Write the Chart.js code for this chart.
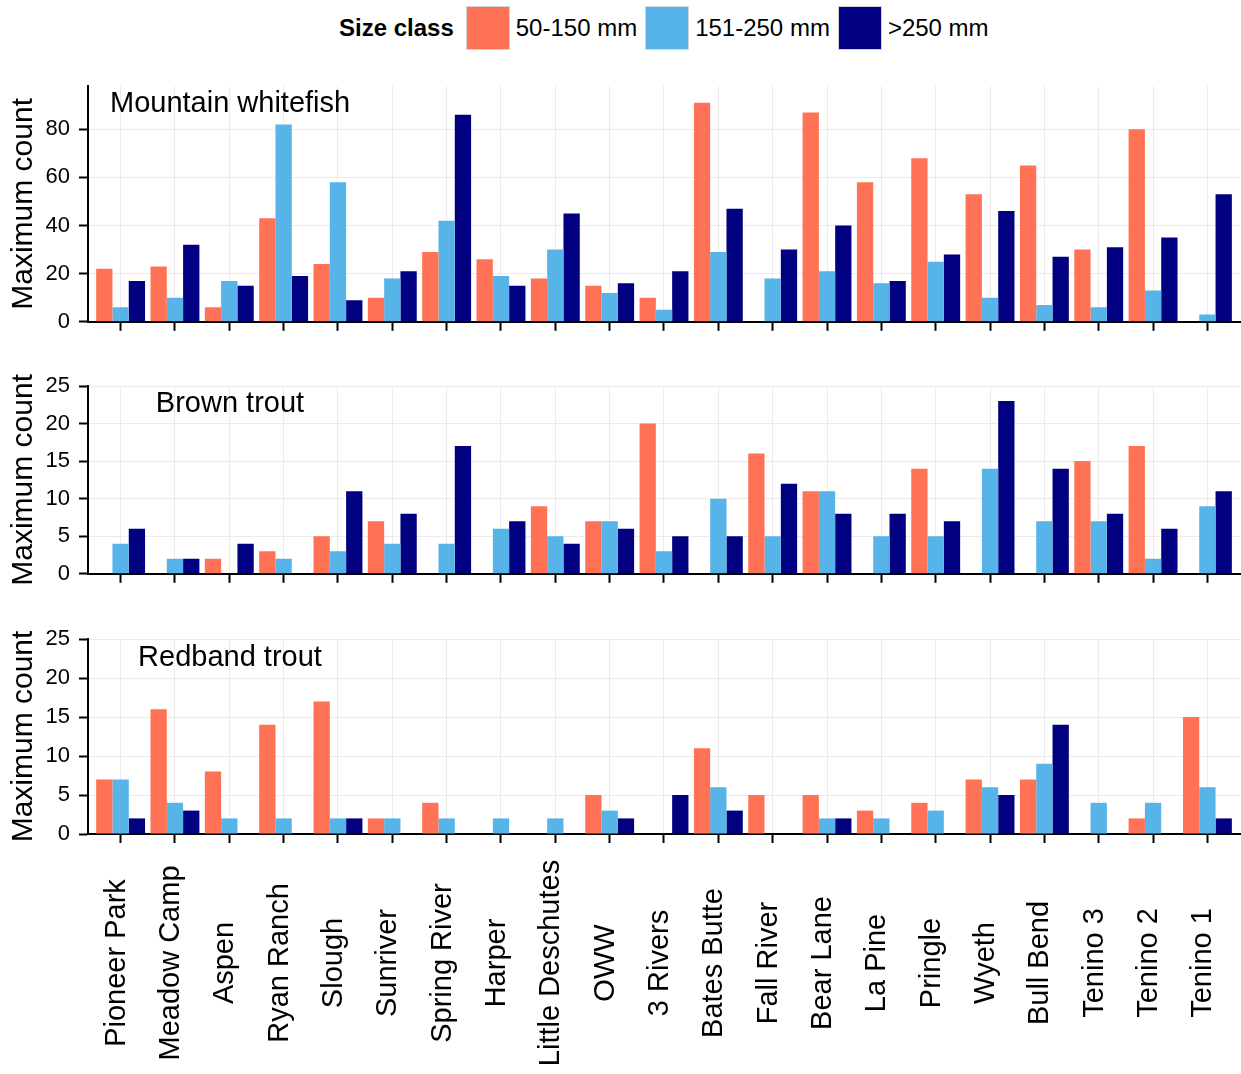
<!DOCTYPE html>
<html>
<head>
<meta charset="utf-8">
<script src="https://cdn.jsdelivr.net/npm/chart.js@4.4.1/dist/chart.umd.min.js"></script>
<style>
  html, body { margin: 0; padding: 0; background: #fff; }
  body { width: 1241px; height: 1074px; position: relative; overflow: hidden;
         font-family: "Liberation Sans", Arial, sans-serif; color: #000; }
  .legend { position: absolute; top: 6px; left: 339px; height: 44px; display: flex;
            align-items: center; font-size: 24px; white-space: nowrap; }
  .legend b { margin-right: 12px; }
  .legend .key { width: 42px; height: 42px; border: 1px solid #d4d4d4; margin-right: 6px; }
  .legend .lab { margin-right: 8px; }
  .panel { position: absolute; left: 0; }
  .ptitle { position: absolute; left: 110px; width: 240px; text-align: center;
            font-size: 29px; line-height: 29px; white-space: nowrap; }
</style>
</head>
<body>

<div class="legend" id="legend"></div>

<canvas class="panel" id="pWhitefish" width="1241" height="284" style="top:60px"></canvas>
<canvas class="panel" id="pBrown" width="1241" height="236" style="top:360px"></canvas>
<canvas class="panel" id="pRedband" width="1241" height="461" style="top:613px"></canvas>

<div class="ptitle" style="top:88px">Mountain whitefish</div>
<div class="ptitle" style="top:388px">Brown trout</div>
<div class="ptitle" style="top:642px">Redband trout</div>

<script>
// ---- data ----
var sites = ["Pioneer Park", "Meadow Camp", "Aspen", "Ryan Ranch", "Slough", "Sunriver",
  "Spring River", "Harper", "Little Deschutes", "OWW", "3 Rivers", "Bates Butte",
  "Fall River", "Bear Lane", "La Pine", "Pringle", "Wyeth", "Bull Bend",
  "Tenino 3", "Tenino 2", "Tenino 1"];

var sizeClasses = ["50-150 mm", "151-250 mm", ">250 mm"];
var sizeColors = ["#FF7256", "#56B4E9", "#000080"];

var whitefishSmall = [22, 23, 6, 43, 24, 10, 29, 26, 18, 15, 10, 91, 0, 87, 58, 68, 53, 65, 30, 80, 0];
var whitefishMid   = [6, 10, 17, 82, 58, 18, 42, 19, 30, 12, 5, 29, 18, 21, 16, 25, 10, 7, 6, 13, 3];
var whitefishLarge = [17, 32, 15, 19, 9, 21, 86, 15, 45, 16, 21, 47, 30, 40, 17, 28, 46, 27, 31, 35, 53];

var brownSmall = [0, 0, 2, 3, 5, 7, 0, 0, 9, 7, 20, 0, 16, 11, 0, 14, 0, 0, 15, 17, 0];
var brownMid   = [4, 2, 0, 2, 3, 4, 4, 6, 5, 7, 3, 10, 5, 11, 5, 5, 14, 7, 7, 2, 9];
var brownLarge = [6, 2, 4, 0, 11, 8, 17, 7, 4, 6, 5, 5, 12, 8, 8, 7, 23, 14, 8, 6, 11];

var redbandSmall = [7, 16, 8, 14, 17, 2, 4, 0, 0, 5, 0, 11, 5, 5, 3, 4, 7, 7, 0, 2, 15];
var redbandMid   = [7, 4, 2, 2, 2, 2, 2, 2, 2, 3, 0, 6, 0, 2, 2, 3, 6, 9, 4, 4, 6];
var redbandLarge = [2, 3, 0, 0, 2, 0, 0, 0, 0, 2, 5, 3, 0, 2, 0, 0, 5, 14, 0, 0, 2];

var whitefishTicks = [0, 20, 40, 60, 80];
var troutTicks = [0, 5, 10, 15, 20, 25];

// ---- legend ----
(function () {
  var lg = document.getElementById("legend");
  var html = "<b>Size class</b>";
  sizeClasses.forEach(function (s, i) {
    html += '<div class="key" style="background:' + sizeColors[i] + '"></div>' +
      '<span class="lab">' + s.replace(">", "&gt;") + "</span>";
  });
  lg.innerHTML = html;
})();

var FONT = '"Liberation Sans", Arial, sans-serif';
var GRID = "#ebebeb";

// rotated, centred site names under the last panel
var siteLabels = {
  id: "siteLabels",
  afterDraw: function (chart, args, opts) {
    if (!opts.show) return;
    var xs = chart.scales.x, ctx = chart.ctx;
    var cy = chart.chartArea.bottom + 129;
    ctx.save();
    ctx.font = "29px " + FONT;
    ctx.fillStyle = "#000";
    ctx.textAlign = "center";
    ctx.textBaseline = "middle";
    sites.forEach(function (name, i) {
      ctx.save();
      ctx.translate(xs.getPixelForValue(i) - 4, cy);
      ctx.rotate(-Math.PI / 2);
      ctx.fillText(name, 0, 0);
      ctx.restore();
    });
    ctx.restore();
  }
};

function panel(id, series, yMax, yTicks, xHeight, showLabels) {
  var datasets = series.map(function (vals, k) {
    return {
      label: sizeClasses[k],
      data: vals.map(function (v, i) { return { x: i, y: v }; }),
      backgroundColor: sizeColors[k],
      borderWidth: 0,
      categoryPercentage: 0.9,
      barPercentage: 1.0
    };
  });
  return new Chart(document.getElementById(id), {
    type: "bar",
    data: { datasets: datasets },
    plugins: [siteLabels],
    options: {
      responsive: false,
      animation: false,
      devicePixelRatio: 1,
      layout: { padding: { top: 26, right: 1, left: 0, bottom: 0 } },
      plugins: {
        legend: { display: false },
        tooltip: { enabled: false },
        siteLabels: { show: showLabels }
      },
      scales: {
        x: {
          type: "linear",
          min: -0.6, max: 20.6,
          offset: false,
          grid: { offset: false, color: GRID, lineWidth: 1, drawTicks: true,
                  tickLength: 9, tickColor: "#000", tickWidth: 2 },
          border: { color: "#000", width: 2 },
          ticks: { display: false },
          afterBuildTicks: function (s) {
            s.ticks = sites.map(function (n, i) { return { value: i }; });
          },
          afterFit: function (s) { s.height = xHeight; }
        },
        y: {
          min: 0, max: yMax,
          grid: { color: GRID, lineWidth: 1, tickLength: 9, tickColor: "#000", tickWidth: 2 },
          border: { color: "#000", width: 2 },
          ticks: { font: { family: FONT, size: 22 }, color: "#000", padding: 9 },
          afterBuildTicks: function (s) {
            s.ticks = yTicks.map(function (v) { return { value: v }; });
          },
          title: { display: true, text: "Maximum count", color: "#000",
                   font: { family: FONT, size: 30 }, padding: { top: 6, bottom: 0 } },
          afterFit: function (s) { s.width = 88; }
        }
      }
    }
  });
}

panel("pWhitefish", [whitefishSmall, whitefishMid, whitefishLarge], 98, whitefishTicks, 20, false);
panel("pBrown", [brownSmall, brownMid, brownLarge], 25, troutTicks, 20, false);
panel("pRedband", [redbandSmall, redbandMid, redbandLarge], 25, troutTicks, 240, true);
</script>
</body>
</html>
